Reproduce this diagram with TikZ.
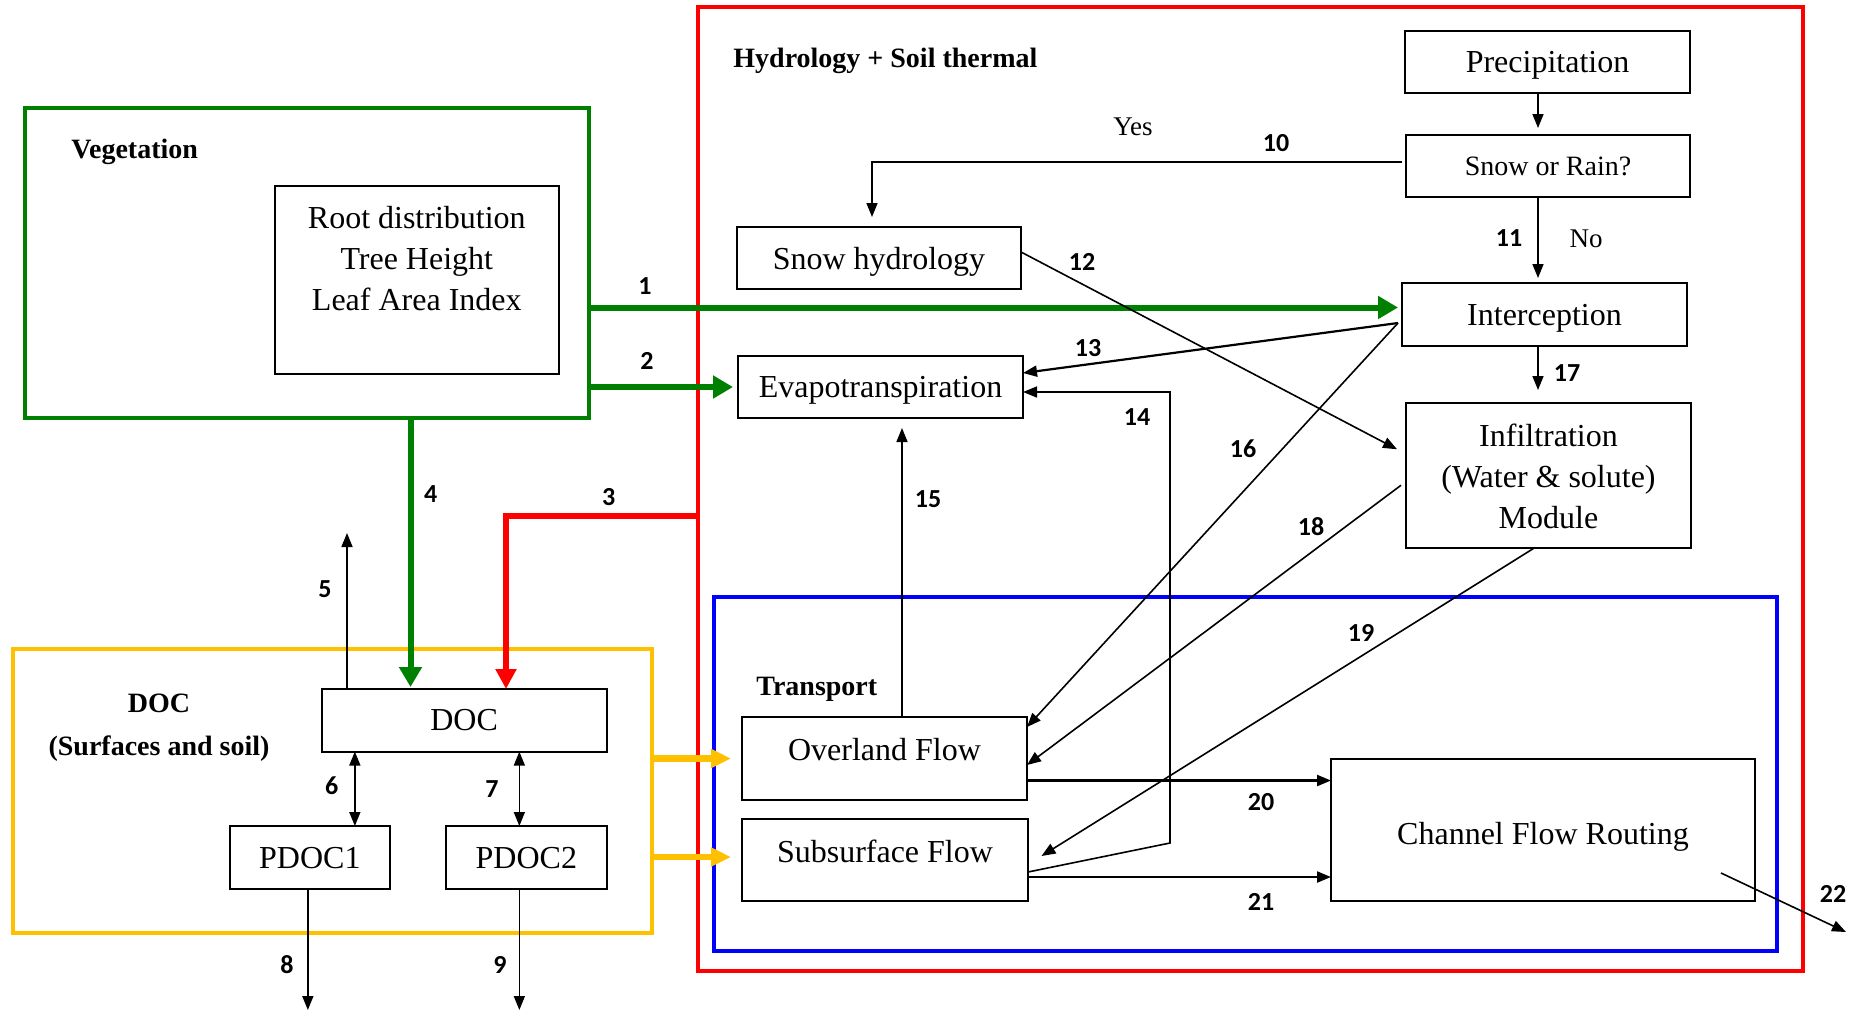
\documentclass[tikz,border=0pt]{standalone}
\usepackage{fontspec}
\setmainfont{Liberation Serif}
\newfontfamily\numfont{Carlito}
\usetikzlibrary{arrows.meta,calc}
\definecolor{vgreen}{RGB}{0,128,0}
\definecolor{hred}{RGB}{255,0,0}
\definecolor{tblue}{RGB}{0,0,255}
\definecolor{dorange}{RGB}{255,192,0}
\newcommand\liftup[2]{\raisebox{#1}[\height][\depth]{#2}}
\begin{document}
\begin{tikzpicture}[x=0.5pt,y=-0.5pt,
  box/.style={draw, line width=1pt, inner sep=0pt, outer sep=0pt, font=\fontsize{16}{20.5}\selectfont, align=center},
  onebox/.style={box, text depth=0pt},
  grp/.style={draw, line width=2pt, inner sep=0pt, outer sep=0pt},
  glabel/.style={font=\fontsize{14}{21.5}\selectfont\bfseries, inner sep=0pt, align=center},
  num/.style={font=\numfont\bfseries\fontsize{13}{13}\selectfont, inner sep=0pt},
  yn/.style={font=\fontsize{13.5}{13.5}\selectfont, inner sep=0pt},
  arr/.style={line width=0.8pt, -{Triangle[length=7pt,width=5.5pt]}},
  darr/.style={line width=0.8pt, {Triangle[length=7pt,width=5.5pt]}-{Triangle[length=7pt,width=5.5pt]}},
  garr/.style={line width=3pt, draw=vgreen, -{Triangle[length=10pt,width=11pt]}},
  rarr/.style={line width=3pt, draw=hred, line join=miter, -{Triangle[length=10pt,width=10pt]}},
  oarr/.style={line width=3.2pt, draw=dorange, -{Triangle[length=10pt,width=9pt]}}
]
\fill[white] (0,0) rectangle (1863,1013);
\useasboundingbox (0,0) rectangle (1863,1013);

% group frames
\node[grp, draw=hred, minimum width=552.75pt, minimum height=482pt] (hyd) at (1250.25,489) {};
\node[grp, draw=tblue, minimum width=531.5pt, minimum height=177.25pt] (transp) at (1245.5,773.75) {};
\node[grp, draw=vgreen, minimum width=282.2pt, minimum height=155pt] (veg) at (306.8,263) {};
\node[grp, draw=dorange, minimum width=319.15pt, minimum height=142pt] (docgrp) at (332.55,790.6) {};

% group labels
\node[glabel, text depth=0pt, anchor=west] (lveg) at (71,149) {Vegetation};
\node[glabel, text depth=0pt, anchor=west] (lhyd) at (733,58) {Hydrology + Soil thermal};
\node[glabel, text depth=0pt, anchor=west] (ltr) at (756,686) {Transport};
\node[glabel] (ldoc) at (159,727.5) {DOC\\(Surfaces and soil)};

% boxes
\node[box, minimum width=142.2pt, minimum height=94pt] (root) at (416.8,280)
  {\liftup{9.3pt}{\begin{tabular}{@{}c@{}}Root distribution\\Tree Height\\Leaf Area Index\end{tabular}}};
\node[onebox, minimum width=142.5pt, minimum height=31pt] (precip) at (1547.5,62) {Precipitation};
\node[onebox, minimum width=142pt, minimum height=31pt, font=\fontsize{14}{14}\selectfont] (snowrain) at (1548,166) {Snow or Rain?};
\node[onebox, minimum width=142pt, minimum height=31pt] (snowhyd) at (879,258) {Snow hydrology};
\node[onebox, minimum width=142.5pt, minimum height=31.5pt] (intercept) at (1544.5,314.5) {Interception};
\node[onebox, minimum width=142.5pt, minimum height=31pt] (evapo) at (880.5,387) {Evapotranspiration};
\node[box, minimum width=142.5pt, minimum height=72.25pt] (infil) at (1548.5,475.25)
  {\liftup{-2pt}{\begin{tabular}{@{}c@{}}Infiltration\\(Water \& solute)\\Module\end{tabular}}};
\node[onebox, minimum width=142.5pt, minimum height=41.5pt] (overland) at (884.5,758.5) {\liftup{4.75pt}{Overland Flow}};
\node[onebox, minimum width=143pt, minimum height=41pt] (subsurf) at (885,860) {\liftup{4.3pt}{Subsurface Flow}};
\node[onebox, minimum width=212pt, minimum height=71pt] (channel) at (1543,830) {\liftup{-1.75pt}{Channel Flow Routing}};
\node[onebox, minimum width=142.6pt, minimum height=31.3pt] (doc) at (464.1,720.3) {DOC};
\node[onebox, minimum width=80.15pt, minimum height=31.5pt] (pdoc1) at (309.85,857.5) {PDOC1};
\node[onebox, minimum width=80.35pt, minimum height=31.5pt] (pdoc2) at (526.35,857.5) {PDOC2};

% coordinates
\coordinate (vx) at ($(precip.south)+(-9.5,0)$);
\coordinate (t1) at ($(intercept.west)+(0,-7)$);
\coordinate (t3) at ($(doc.north west)+(184.5,0)$);
\coordinate (s3) at ($(hyd.north west)+(0,509)$);
\coordinate (t4) at ($(doc.north west)+(89,0)$);
\coordinate (s5) at ($(doc.north west)+(25.5,0)$);
\coordinate (e5) at ($(s5)+(0,-156)$);
\coordinate (t6) at ($(pdoc1.north)+(45,0)$);
\coordinate (t7) at ($(pdoc2.north)+(-7,0)$);
\coordinate (s8) at ($(pdoc1.south)+(-2,0)$);
\coordinate (e8) at ($(s8)+(0,121)$);
\coordinate (s9) at ($(pdoc2.south)+(-7,0)$);
\coordinate (e9) at ($(s9)+(0,121)$);
\coordinate (s10) at ($(snowrain.west)+(-4,-4)$);
\coordinate (t10) at ($(snowhyd.north west)+(135,0)$);
\coordinate (si) at ($(intercept.west)+(-4,8.5)$);
\coordinate (b14) at ($(subsurf.east)+(142,-17)$);
\coordinate (x15) at ($(overland.north)+(17.5,0)$);
\coordinate (s20) at ($(overland.east)+(0,22)$);
\coordinate (s21) at ($(subsurf.east)+(0,17)$);
\coordinate (s22) at ($(channel.south east)+(-34,-28)$);
\coordinate (e22) at ($(s22)+(125,59)$);
\coordinate (os) at ($(subsurf.west)+(0,-3)$);

% thick arrows
\draw[garr, shorten >=2pt] (veg.east |- t1) -- (t1);
\draw[garr, shorten >=2.5pt] (veg.east |- evapo.west) -- (evapo.west);
\draw[garr, shorten >=1pt] (veg.south -| t4) -- (t4);
\draw[rarr] (s3) -| (t3);
\draw[oarr, shorten >=5.5pt] (docgrp.east |- overland.west) -- (overland.west);
\draw[oarr, shorten >=5.5pt] (docgrp.east |- os) -- (os);

% thin arrows
\draw[arr, shorten >=3.5pt] (vx) -- (snowrain.north -| vx);
\draw[arr, shorten >=2.5pt] (snowrain.south -| vx) -- (intercept.north -| vx);
\draw[arr, shorten >=6.5pt] (intercept.south -| vx) -- (infil.north -| vx);
\draw[arr, shorten >=5pt] (s10) -| (t10);
\draw[arr] ($(snowhyd.east)+(0,-6)$) -- ($(infil.west)+(-9,-26)$);
\draw[arr, line width=1.1pt] (si) -- ($(evapo.east)+(0,-14)$);
\draw[arr] (si) -- ($(overland.north east)+(0,10)$);
\draw[arr] ($(infil.west)+(-5,10)$) -- ($(overland.east)+(0,6.5)$);
\draw[arr] ($(infil.south)+(-13.5,0)$) -- ($(subsurf.east)+(13.5,-4)$);
\draw[arr] ($(subsurf.east)+(0,12)$) -- (b14) |- ($(evapo.east)+(0,5)$);
\draw[arr, shorten >=5pt] (x15) -- (evapo.south -| x15);
\draw[arr, line width=1.1pt] (s20) -- (channel.west |- s20);
\draw[arr, line width=1.1pt] (s21) -- (channel.west |- s21);
\draw[arr] (s22) -- (e22);
\draw[arr] (s5) -- (e5);
\draw[darr] (doc.south -| t6) -- (t6);
\draw[darr] (doc.south -| t7) -- (t7);
\draw[arr] (s8) -- (e8);
\draw[arr] (s9) -- (e9);

% labels
\node[num] (n1) at (645,286) {1};
\node[num] (n2) at (647,361) {2};
\node[num] (n3) at (608.6,497) {3};
\node[num] (n4) at (430.6,494) {4};
\node[num] (n5) at (325,589) {5};
\node[num] (n6) at (331.6,786) {6};
\node[num] (n7) at (492,789) {7};
\node[num] (n8) at (287,965) {8};
\node[num] (n9) at (500,965) {9};
\node[num] (n10) at (1276,143) {10};
\node[num] (n11) at (1509,238) {11};
\node[num] (n12) at (1082,262) {12};
\node[num] (n13) at (1088,348) {13};
\node[num] (n14) at (1137,417) {14};
\node[num] (n15) at (928,499) {15};
\node[num] (n16) at (1243,449) {16};
\node[num] (n17) at (1567,373) {17};
\node[num] (n18) at (1311,527) {18};
\node[num] (n19) at (1361,633) {19};
\node[num] (n20) at (1261,802) {20};
\node[num] (n21) at (1261,902) {21};
\node[num] (n22) at (1833,894) {22};
\node[yn] (yes) at (1133,127) {Yes};
\node[yn] (no) at (1586,239) {No};
\end{tikzpicture}
\end{document}
